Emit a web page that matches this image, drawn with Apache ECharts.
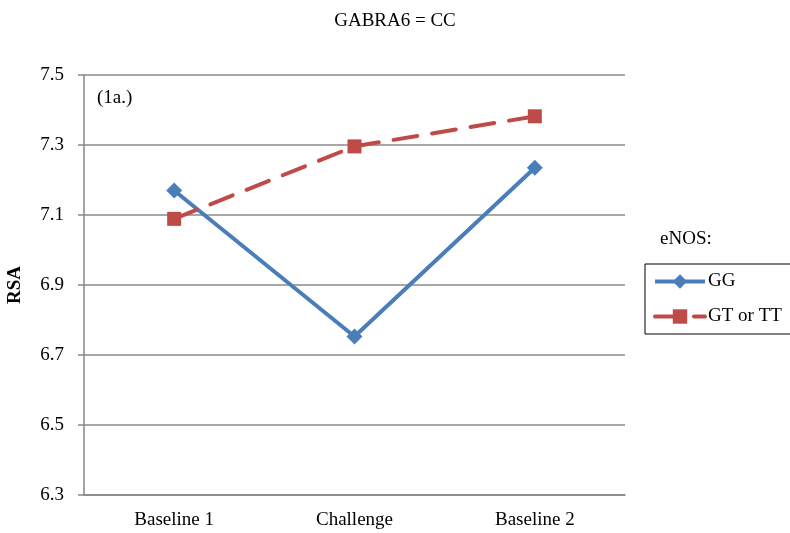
<!DOCTYPE html>
<html><head><meta charset="utf-8">
<script src="https://cdn.jsdelivr.net/npm/echarts@6/dist/echarts.min.js"></script>
<style>html,body{margin:0;padding:0;background:#fff}#c{width:790px;height:533px}</style>
</head><body><div id="c"></div>
<script>
const categories = ['Baseline 1', 'Challenge', 'Baseline 2'];
const ggValues = [7.17, 6.753, 7.235];
const gtValues = [7.089, 7.296, 7.382];
const seriesNames = ['GG', 'GT or TT'];
const yTicks = { min: 6.3, max: 7.5, step: 0.2 };

const FONT = '"Liberation Serif", "Times New Roman", serif';
const chart = echarts.init(document.getElementById('c'), null, { renderer: 'canvas' });
chart.setOption({
  animation: false,
  backgroundColor: '#fff',
  textStyle: { fontFamily: FONT, color: '#000' },
  title: {
    text: 'GABRA6 = CC', left: 'center', top: 7,
    textStyle: { fontFamily: FONT, fontSize: 19, fontWeight: 'normal', color: '#000' }
  },
  graphic: [
    { type: 'text', left: 97, top: 89, style: { text: '(1a.)', font: '19px ' + FONT, fill: '#000' } },
    { type: 'text', left: 660, top: 230, style: { text: 'eNOS:', font: '19px ' + FONT, fill: '#000' } }
  ],
  grid: { left: 84, right: 165, top: 75, bottom: 38, containLabel: false, outerBoundsMode: 'none' },
  legend: {
    orient: 'vertical', left: 645, top: 264,
    data: seriesNames,
    borderColor: '#000', borderWidth: 1, borderRadius: 0,
    padding: [8, 30, 8, 8], itemGap: 16,
    itemWidth: 50, itemHeight: 18,
    lineStyle: { width: 4 },
    textStyle: { fontFamily: FONT, fontSize: 19, color: '#000', padding: [0, 0, 0, -2] }
  },
  xAxis: {
    type: 'category', data: categories, boundaryGap: true,
    axisLine: { lineStyle: { color: '#868686', width: 1.5 } },
    axisTick: { show: false },
    axisLabel: { fontFamily: FONT, fontSize: 19, color: '#000', margin: 16 }
  },
  yAxis: {
    type: 'value', min: yTicks.min, max: yTicks.max, interval: yTicks.step,
    name: 'RSA', nameLocation: 'middle', nameGap: 59, nameRotate: 90,
    nameTextStyle: { fontFamily: FONT, fontSize: 19, fontWeight: 'bold', color: '#000' },
    axisLine: { show: true, lineStyle: { color: '#868686', width: 1.5 } },
    axisTick: { show: true, length: 6, lineStyle: { color: '#868686', width: 1.5 } },
    axisLabel: { fontFamily: FONT, fontSize: 19, color: '#000', margin: 20,
      formatter: v => v.toFixed(1) },
    splitLine: { lineStyle: { color: '#8a8a8a', width: 1.5 } }
  },
  series: [
    { name: seriesNames[0], type: 'line', data: ggValues,
      symbol: 'diamond', symbolSize: 16,
      itemStyle: { color: '#4A7EBB' },
      lineStyle: { color: '#4A7EBB', width: 4 } },
    { name: seriesNames[1], type: 'line', data: gtValues,
      symbol: 'rect', symbolSize: 14,
      itemStyle: { color: '#BE4B48' },
      lineStyle: { color: '#BE4B48', width: 4, type: [24, 15], cap: 'round' } }
  ]
});
</script></body></html>
